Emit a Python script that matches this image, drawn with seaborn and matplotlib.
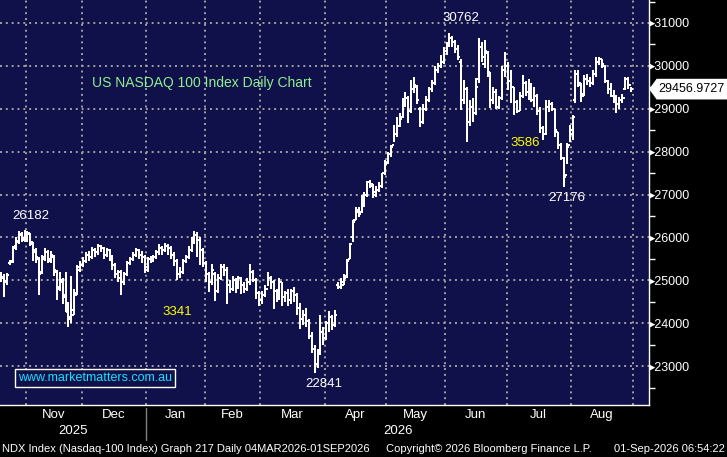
import numpy as np
import pandas as pd
import matplotlib
matplotlib.use("Agg")
import matplotlib.pyplot as plt
import matplotlib.transforms as mtransforms
from matplotlib.patches import Polygon
import seaborn as sns

# NYSE holidays inside the window (no bar on these days)
holidays = ['2025-11-27', '2025-12-25', '2026-01-01', '2026-01-19', '2026-02-16',
            '2026-04-03', '2026-05-25', '2026-06-19', '2026-07-03']

# daily OHLC, 20 Oct 2025 -> 31 Aug 2026
opens = [25100,
         25150, 25080, 24950, 25400, 25450, 25800, 25920, 26080, 25950,
         26050, 26080, 25850, 25700, 25500, 25200, 25500, 25650, 25450, 25550,
         25200, 24800, 24950, 24650, 24250, 24100, 24300, 24700, 25300,
         25350, 25450, 25600, 25550, 25700, 25650, 25800, 25750, 25600, 25700,
         25550, 25350, 25150, 25200, 24950, 25150, 25400, 25500, 25600, 25700,
         25600, 25550, 25250, 25500, 25450, 25550, 25650, 25750, 25700,
         25800, 25750, 25600, 25450, 25150, 25200, 25450, 25550, 25700, 25900,
         26050, 25950, 25700, 25400, 25150, 24950, 25150, 24750, 25050,
         25300, 25250, 24900, 24800, 25000, 24850, 25050, 24900, 24800, 24950,
         25200, 25000, 24700, 24550, 24650, 24800, 25050, 24950, 24750, 24600,
         24950, 24600, 24700, 24550, 24750, 24650, 24350, 24100, 24200,
         24050, 23700, 23400, 23050, 23300, 23800, 23650, 24000, 24150, 23950,
         24900, 24850, 24900, 25100, 25500, 26000, 26400, 26650, 26600,
         26800, 27000, 27300, 27200, 27000, 27100, 27200, 27500, 27750, 27950,
         28150, 28400, 28600, 28800, 29100, 29250, 28950, 29450, 29500,
         29000, 28700, 29000, 29200, 29450, 29600, 29900, 30000, 30100, 30350,
         30500, 30650, 30550, 30400, 30100, 29200, 29450, 28700, 29050, 28900,
         29700, 30450, 30050, 30300, 29850, 29200, 29400, 29050, 29250,
         29900, 30000, 29650, 29500, 29150, 28950, 29300, 29600, 29400, 29550,
         29200, 29300, 28950, 28550, 28400, 29050, 29100, 29000, 28450,
         28150, 27850, 27450, 28150, 28400, 29200, 29800, 29550, 29350, 29700,
         29650, 29600, 29800, 30100, 30150, 30000, 29650, 29450, 29300, 29200,
         29100, 29200, 29450, 29700, 29550]
highs = [25200,
         25200, 25150, 25180, 25480, 25800, 26000, 26150, 26120, 26182,
         26150, 26100, 25900, 25750, 25550, 25600, 25750, 25700, 25680, 25600,
         25250, 25200, 25050, 25200, 24500, 25100, 24800, 25350, 25450,
         25550, 25650, 25680, 25780, 25750, 25850, 25830, 25780, 25760, 25720,
         25600, 25400, 25250, 25250, 25200, 25450, 25550, 25650, 25750, 25720,
         25680, 25600, 25550, 25560, 25600, 25700, 25850, 25800, 25880,
         25850, 25790, 25650, 25500, 25300, 25500, 25600, 25800, 26000, 26160,
         26120, 26000, 25750, 25450, 25200, 25370, 25200, 25150, 25370,
         25370, 25300, 25000, 25090, 25050, 25100, 25080, 24950, 25050, 25370,
         25250, 25050, 24750, 24750, 24900, 25200, 25090, 25000, 24800, 25050,
         24950, 24750, 24800, 24800, 24850, 24700, 24480, 24300, 24350,
         24100, 23800, 23500, 23400, 24200, 23900, 24050, 24280, 24200, 24300,
         24970, 25050, 25150, 25500, 25880, 26400, 26720, 26700, 26990,
         27050, 27320, 27350, 27250, 27200, 27300, 27510, 27800, 28000, 28150,
         28630, 28800, 28900, 29250, 29400, 29300, 29670, 29750, 29550,
         29050, 29100, 29300, 29500, 29680, 30000, 30070, 30250, 30450, 30560,
         30762, 30700, 30600, 30490, 30150, 29670, 29500, 29200, 29250, 29720,
         30650, 30550, 30600, 30350, 29860, 29500, 29450, 29300, 30000,
         30330, 30100, 29900, 29500, 29200, 29400, 29790, 29650, 29700, 29600,
         29500, 29350, 29050, 28600, 29210, 29200, 29150, 29000, 28460,
         28200, 27880, 28210, 28630, 28850, 29900, 29900, 29600, 29780, 29800,
         29740, 29900, 30210, 30200, 30150, 30020, 29670, 29600, 29440, 29330,
         29280, 29350, 29740, 29750, 29500]
lows = [24950,
        24950, 24600, 24900, 25350, 25400, 25700, 25850, 25900, 25900,
        25900, 25800, 25450, 25400, 24650, 25150, 25450, 25400, 25400, 25100,
        24550, 24750, 24450, 24250, 23900, 24000, 24200, 24650, 25200,
        25300, 25400, 25450, 25500, 25550, 25600, 25650, 25500, 25550, 25450,
        25250, 25050, 24950, 24650, 24900, 25100, 25350, 25450, 25550, 25500,
        25400, 25180, 25200, 25400, 25420, 25500, 25600, 25600, 25650,
        25600, 25500, 25330, 25000, 25050, 25150, 25400, 25500, 25650, 25850,
        25550, 25350, 25300, 24950, 24720, 24900, 24510, 24700, 25000,
        25090, 24440, 24700, 24750, 24700, 24800, 24670, 24700, 24750, 24900,
        24950, 24560, 24400, 24450, 24600, 24860, 24800, 24320, 24500, 24550,
        24400, 24500, 24400, 24450, 24500, 24200, 23860, 23950, 23900,
        23630, 23300, 22841, 22950, 23250, 23500, 23600, 23800, 23850, 23900,
        24790, 24800, 24880, 25050, 25500, 25900, 26400, 26480, 26580,
        26700, 26950, 27150, 26930, 26950, 27050, 27160, 27450, 27700, 27880,
        28230, 28350, 28580, 28790, 29050, 28670, 28900, 29370, 29100,
        28580, 28650, 28950, 29150, 29400, 29550, 29840, 29950, 30050, 30250,
        30450, 30450, 30300, 30140, 28970, 29100, 28230, 28600, 28700, 28850,
        29600, 30100, 29950, 29750, 29020, 29100, 29000, 29000, 29200,
        29750, 29440, 29140, 28860, 28900, 28950, 29250, 29300, 29200, 29150,
        29050, 28850, 28440, 28280, 28380, 28930, 28950, 28350, 28050,
        27800, 27176, 27700, 28230, 28280, 29140, 29500, 29160, 29300, 29550,
        29510, 29550, 29740, 30020, 29950, 29600, 29350, 29280, 29140, 28910,
        29000, 29140, 29440, 29450, 29400]
closes = [25150,
          25050, 24980, 25120, 25420, 25750, 25900, 26050, 25980, 26120,
          26100, 25900, 25650, 25550, 25150, 25550, 25650, 25500, 25600, 25250,
          24850, 25000, 24600, 24300, 24150, 24200, 24650, 25250, 25350,
          25450, 25600, 25550, 25700, 25650, 25800, 25750, 25600, 25700, 25550,
          25350, 25150, 25050, 24950, 25150, 25400, 25500, 25600, 25700, 25600,
          25550, 25300, 25500, 25450, 25550, 25650, 25750, 25700, 25800,
          25750, 25600, 25450, 25150, 25200, 25450, 25550, 25700, 25900, 26050,
          25950, 25700, 25400, 25150, 24950, 25250, 24750, 25050, 25300,
          25250, 24900, 24800, 25000, 24850, 25050, 24900, 24800, 24950, 25200,
          25000, 24700, 24550, 24650, 24800, 25050, 24950, 24750, 24600, 24950,
          24600, 24700, 24550, 24750, 24650, 24350, 24100, 24200, 24050,
          23700, 23400, 23050, 23300, 23800, 23650, 24000, 24150, 23950, 24200,
          24850, 24950, 25050, 25450, 25850, 26350, 26600, 26550, 26800,
          27000, 27300, 27250, 27050, 27100, 27200, 27500, 27700, 27950, 28100,
          28400, 28600, 28750, 29100, 29250, 28950, 29450, 29550, 29200,
          28700, 29000, 29200, 29450, 29600, 29900, 30000, 30100, 30350, 30500,
          30650, 30550, 30400, 30200, 29200, 29450, 28700, 29050, 28900, 29500,
          30450, 30200, 30350, 29850, 29200, 29400, 29050, 29250, 29900,
          30000, 29650, 29500, 29150, 28950, 29300, 29600, 29400, 29550, 29200,
          29300, 28950, 28550, 28400, 29050, 29100, 29000, 28500, 28150,
          27850, 27400, 28100, 28500, 28800, 29800, 29600, 29300, 29700, 29650,
          29600, 29800, 30100, 30150, 30050, 29650, 29450, 29300, 29200, 29100,
          29200, 29250, 29700, 29550, 29457]

last_price = 29456.9727
y_ticks = list(range(23000, 32000, 1000))
year_labels = ['2025', '2026']

# call-outs: (text, date, value, colour)
callouts = [('26182', '2025-11-04', 26490, 'white'),
            ('3341', '2026-01-16', 24255, '#ffff00'),
            ('22841', '2026-03-31', 22580, 'white'),
            ('30762', '2026-06-08', 31115, 'white'),
            ('3586', '2026-07-10', 28210, '#ffff00'),
            ('27176', '2026-07-30', 26930, 'white')]

NAVY = '#10104a'
GRID = '#a0a0a0'

sns.set_theme(style="dark", rc={'axes.facecolor': NAVY, 'figure.facecolor': 'black'})
plt.rcParams['font.family'] = ['Liberation Sans', 'DejaVu Sans']

dates = pd.bdate_range('2025-10-20', '2026-08-31', freq='C', holidays=holidays)
df = pd.DataFrame({'date': dates, 'open': opens, 'high': highs, 'low': lows, 'close': closes})
df['pos'] = np.arange(len(df))

fig = plt.figure(figsize=(7.27, 4.57), dpi=100, facecolor='black')
ax = fig.add_axes([0, 1 - 405 / 457, 649 / 727, 405 / 457])
ax.set_facecolor(NAVY)

# OHLC bars
w = 0.75
bar_kw = dict(color='white', lw=1.2, zorder=3, antialiased=False)
ax.vlines(df['pos'], df['low'], df['high'], **bar_kw)
ax.hlines(df['open'], df['pos'] - w, df['pos'], **bar_kw)
ax.hlines(df['close'], df['pos'], df['pos'] + w, **bar_kw)

ax.set_xlim(0.63, 222.1)
ax.set_ylim(22093, 31535)

# month boundaries -> grid + ticks, month names centred between them
month_id = df['date'].dt.to_period('M')
starts = df.index[month_id != month_id.shift()].tolist()[1:]
bounds = [s - 0.5 for s in starts] + [len(df) - 0.5]
centres = [(a + b) / 2 for a, b in zip(bounds[:-1], bounds[1:])]
names = [df['date'][s].strftime('%b') for s in starts]
ax.set_xticks(bounds)
ax.set_xticklabels([])
ax.set_xticks(centres, minor=True)
ax.set_xticklabels(names, minor=True)
ax.tick_params(axis='x', which='major', direction='out', length=4, color='#808080', width=1)
ax.tick_params(axis='x', which='minor', length=0, pad=3, labelsize=9.5, labelcolor='white')

# y axis on the right
ax.yaxis.tick_right()
ax.set_yticks(y_ticks)
ax.set_yticklabels(['\u25b8' + str(v) for v in y_ticks])
ax.set_yticks(np.arange(22500, 31600, 500), minor=True)
ax.tick_params(axis='y', which='major', length=0, pad=0, labelsize=9, labelcolor='white')
ax.tick_params(axis='y', which='minor', direction='out', length=4, color='white', width=1, right=True, left=False)

ax.grid(True, which='major', color=GRID, linestyle=(0, (1, 2)), linewidth=1.4)
ax.set_axisbelow(True)

for side in ['top', 'left']:
    ax.spines[side].set_visible(False)
for side in ['right', 'bottom']:
    ax.spines[side].set_visible(True)
    ax.spines[side].set_color('white')
    ax.spines[side].set_linewidth(1)

# year labels and separator
xt = ax.get_xaxis_transform()
jan = bounds[names.index('Jan')]
ax.text((ax.get_xlim()[0] + jan) / 2, -0.065, year_labels[0], transform=xt,
        ha='center', va='center', color='white', fontsize=9.5)
ax.text((jan + ax.get_xlim()[1]) / 2, -0.065, year_labels[1], transform=xt,
        ha='center', va='center', color='white', fontsize=9.5)
ax.plot([jan, jan], [-0.008, -0.087], transform=xt, color='#808080', lw=1, clip_on=False)

# call-outs
pos_of = dict(zip(df['date'].dt.strftime('%Y-%m-%d'), df['pos']))
for txt, d, v, c in callouts:
    ax.text(pos_of[d], v, txt, color=c, fontsize=9.5, ha='center', va='center', zorder=5)

ax.text(0.142, 0.795, 'US NASDAQ 100 Index Daily Chart', transform=ax.transAxes,
        color='#8fef8f', fontsize=10, ha='left', va='center')

ax.text(0.028, 0.066, 'www.marketmatters.com.au', transform=ax.transAxes,
        color='#19e0ff', fontsize=9, ha='left', va='center', zorder=6,
        bbox=dict(boxstyle='square,pad=0.25', facecolor=NAVY, edgecolor='white', lw=1))

# last price tag
bt = mtransforms.blended_transform_factory(fig.transFigure, ax.transData)
hh = 225
tag = Polygon([(650 / 727, last_price), (657 / 727, last_price + hh), (1.0, last_price + hh),
               (1.0, last_price - hh), (657 / 727, last_price - hh)],
              closed=True, transform=bt, facecolor='white', edgecolor='white', clip_on=False, zorder=6)
fig.patches.append(tag)
fig.text(658 / 727, last_price, f'{last_price:.4f}', transform=bt, color='black', fontsize=9,
         ha='left', va='center', zorder=7)

# footer
fy = 1 - 449 / 457
fig.text(2 / 727, fy, 'NDX Index (Nasdaq-100 Index) Graph 217 Daily 04MAR2026-01SEP2026',
         color='white', fontsize=8, ha='left', va='center')
fig.text(386 / 727, fy, 'Copyright\u00a9 2026 Bloomberg Finance L.P.',
         color='white', fontsize=8, ha='left', va='center')
fig.text(725 / 727, fy, '01-Sep-2026 06:54:22', color='white', fontsize=8, ha='right', va='center')

fig.savefig('out.png', dpi=100, facecolor='black')
